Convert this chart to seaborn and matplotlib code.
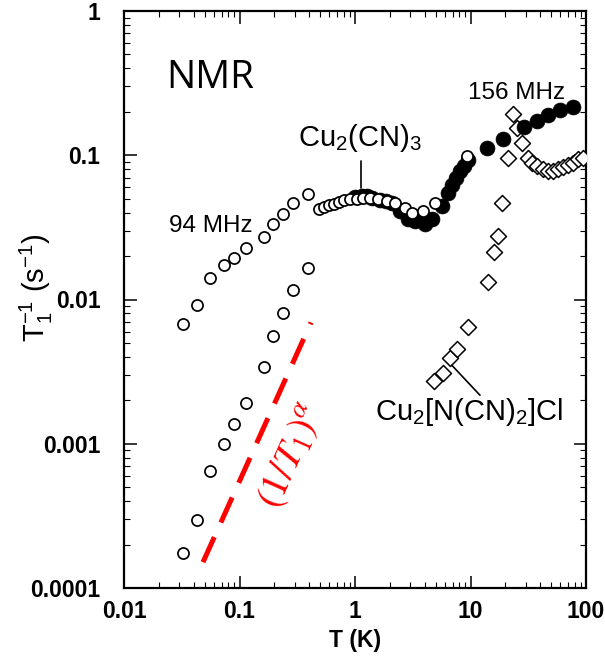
import matplotlib
matplotlib.use("Agg")
import matplotlib.pyplot as plt
import matplotlib.ticker as mticker
import seaborn as sns
import pandas as pd

# ---------------- data ----------------
# 94 MHz, Cu2(CN)3, upper branch + plateau (open circles)
T_94_up = [0.0324, 0.0428, 0.0556, 0.0735, 0.0896, 0.1138, 0.163, 0.195, 0.238, 0.290, 0.392,
           0.488, 0.539, 0.596, 0.658, 0.727, 0.803, 0.905, 1.04, 1.17, 1.35, 1.58, 1.89,
           2.22, 2.71, 3.12, 3.88, 4.93, 9.33]
R_94_up = [0.00671, 0.00923, 0.0140, 0.01746, 0.0195, 0.0229, 0.0273, 0.0336, 0.0394, 0.0469, 0.0542,
           0.0426, 0.0440, 0.0454, 0.0462, 0.0477, 0.0492, 0.0500, 0.0500, 0.0508, 0.0508, 0.0500, 0.0484,
           0.0469, 0.0433, 0.0400, 0.0413, 0.0469, 0.0993]
# 94 MHz, lower branch (open circles)
T_94_low = [0.0324, 0.0428, 0.0556, 0.0735, 0.0896, 0.1138, 0.163, 0.195, 0.238, 0.290, 0.392]
R_94_low = [0.000175, 0.000296, 0.000645, 0.000993, 0.001365, 0.00191, 0.00338, 0.00554, 0.00812,
            0.01172, 0.01665]
# 156 MHz, Cu2(CN)3 (filled circles)
T_156 = [1.0, 1.15, 1.27, 1.40, 1.65, 1.85, 2.09, 2.45, 2.88, 3.31, 4.04, 4.64, 5.66, 6.38, 6.92,
         7.49, 8.11, 8.78, 9.51, 13.9, 19.1, 29.0, 37.7, 46.9, 59.6, 77.1]
R_156 = [0.0516, 0.0525, 0.0525, 0.0508, 0.0492, 0.0484, 0.0469, 0.0413, 0.0364, 0.0352, 0.0336,
         0.0364, 0.0447, 0.0550, 0.0625, 0.0698, 0.0781, 0.0846, 0.0931, 0.1127, 0.130, 0.157,
         0.173, 0.191, 0.206, 0.217]
# Cu2[N(CN)2]Cl (open diamonds)
T_cl = [4.83, 5.78, 6.65, 7.64, 9.51, 14.2, 16.0, 17.3, 18.7, 21.1, 23.3, 25.3, 27.9, 31.5, 34.1,
        37.7, 42.4, 46.9, 51.8, 57.2, 63.2, 69.8, 77.1, 85.3, 94.2]
R_cl = [0.00271, 0.00308, 0.00391, 0.00451, 0.00640, 0.0133, 0.0215, 0.0277, 0.0469, 0.0962,
        0.194, 0.155, 0.122, 0.0962, 0.0887, 0.0846, 0.0807, 0.0781, 0.0781, 0.0807, 0.0832,
        0.0859, 0.0887, 0.0946, 0.0962]
# (1/T1)_alpha guide line
T_alpha = [0.0483, 0.416]
R_alpha = [0.000151, 0.00693]

x_ticks = [0.01, 0.1, 1, 10, 100]
x_ticklabels = ["0.01", "0.1", "1", "10", "100"]
y_ticks = [0.0001, 0.001, 0.01, 0.1, 1]
y_ticklabels = ["0.0001", "0.001", "0.01", "0.1", "1"]

# ---------------- style ----------------
sns.set_style("ticks")
plt.rcParams["font.family"] = ["Liberation Sans", "DejaVu Sans"]
plt.rcParams["mathtext.fontset"] = "custom"
plt.rcParams["mathtext.rm"] = "Liberation Sans"
plt.rcParams["mathtext.it"] = "Liberation Sans:italic"
plt.rcParams["mathtext.bf"] = "Liberation Sans:bold"
plt.rcParams["text.color"] = "black"
plt.rcParams["axes.labelcolor"] = "black"
plt.rcParams["xtick.color"] = "black"
plt.rcParams["ytick.color"] = "black"

fig = plt.figure(figsize=(6.05, 6.66), dpi=100)
ax = fig.add_axes([124 / 605, 78 / 666, 462 / 605, 577 / 666])

df_156 = pd.DataFrame({"T": T_156, "R": R_156})
df_up = pd.DataFrame({"T": T_94_up, "R": R_94_up})
df_low = pd.DataFrame({"T": T_94_low, "R": R_94_low})
df_cl = pd.DataFrame({"T": T_cl, "R": R_cl})

sns.scatterplot(data=df_cl, x="T", y="R", ax=ax, marker="D", s=66,
                facecolor="white", edgecolor="black", linewidth=1.1, zorder=3)
sns.scatterplot(data=df_156, x="T", y="R", ax=ax, marker="o", s=115,
                color="black", edgecolor="black", linewidth=0.5, zorder=4)
sns.scatterplot(data=df_up, x="T", y="R", ax=ax, marker="o", s=64,
                facecolor="white", edgecolor="black", linewidth=1.25, zorder=5)
sns.scatterplot(data=df_low, x="T", y="R", ax=ax, marker="o", s=64,
                facecolor="white", edgecolor="black", linewidth=1.25, zorder=5)

ax.plot(T_alpha, R_alpha, color="#ff0000", lw=3.6, linestyle=(0, (5.5, 3.2)), zorder=2,
        dash_capstyle="butt")

ax.set_xscale("log")
ax.set_yscale("log")
ax.set_xlim(0.01, 100)
ax.set_ylim(0.0001, 1)

ax.xaxis.set_major_locator(mticker.FixedLocator(x_ticks))
ax.xaxis.set_major_formatter(mticker.FixedFormatter(x_ticklabels))
ax.yaxis.set_major_locator(mticker.FixedLocator(y_ticks))
ax.yaxis.set_major_formatter(mticker.FixedFormatter(y_ticklabels))
ax.xaxis.set_minor_locator(mticker.LogLocator(base=10, subs=range(2, 10), numticks=20))
ax.yaxis.set_minor_locator(mticker.LogLocator(base=10, subs=range(2, 10), numticks=20))
ax.xaxis.set_minor_formatter(mticker.NullFormatter())
ax.yaxis.set_minor_formatter(mticker.NullFormatter())

ax.tick_params(which="both", direction="in", top=True, right=True, color="black")
ax.tick_params(which="major", length=9, width=1.1)
ax.tick_params(axis="y", which="major", pad=17)
ax.tick_params(axis="x", which="major", pad=9)
ax.tick_params(which="minor", length=4.5, width=0.8)
for lab in ax.get_xticklabels() + ax.get_yticklabels():
    lab.set_fontweight("bold")
    lab.set_fontsize(16.5)
for sp in ax.spines.values():
    sp.set_linewidth(1.6)
    sp.set_color("black")

ax.set_xlabel("T (K)", fontsize=16.5, fontweight="bold", labelpad=4)
ax.set_ylabel(r"T$_1^{-1}$ (s$^{-1}$)", fontsize=21)
ax.yaxis.set_label_coords(-0.15, 0.52)

# ---------------- annotations ----------------
ax.text(0.186, 0.884, "NMR", transform=ax.transAxes, fontsize=28, family="Open Sans",
        ha="center", va="center")
ax.text(0.056, 0.0325, "94 MHz", fontsize=17.5, ha="center", va="center")
ax.text(25.3, 0.271, "156 MHz", fontsize=17.5, ha="center", va="center")
ax.text(1.10, 0.132, r"Cu$_2$(CN)$_3$", fontsize=21, ha="center", va="center")
ax.plot([1.127, 1.127], [0.0916, 0.0596], color="black", lw=1.2, zorder=6)
ax.text(9.7, 0.00165, r"Cu$_2$[N(CN)$_2$]Cl", fontsize=21, ha="center", va="center")
ax.plot([6.92, 12.08], [0.00349, 0.00217], color="black", lw=1.2, zorder=6)
ax.text(0.28, 0.00082, r"$(1/T_1)^{\alpha}$", fontsize=28, color="#ff0000", math_fontfamily="stix",
        rotation=66, ha="center", va="center", rotation_mode="anchor")

fig.savefig("out.png", dpi=100)
